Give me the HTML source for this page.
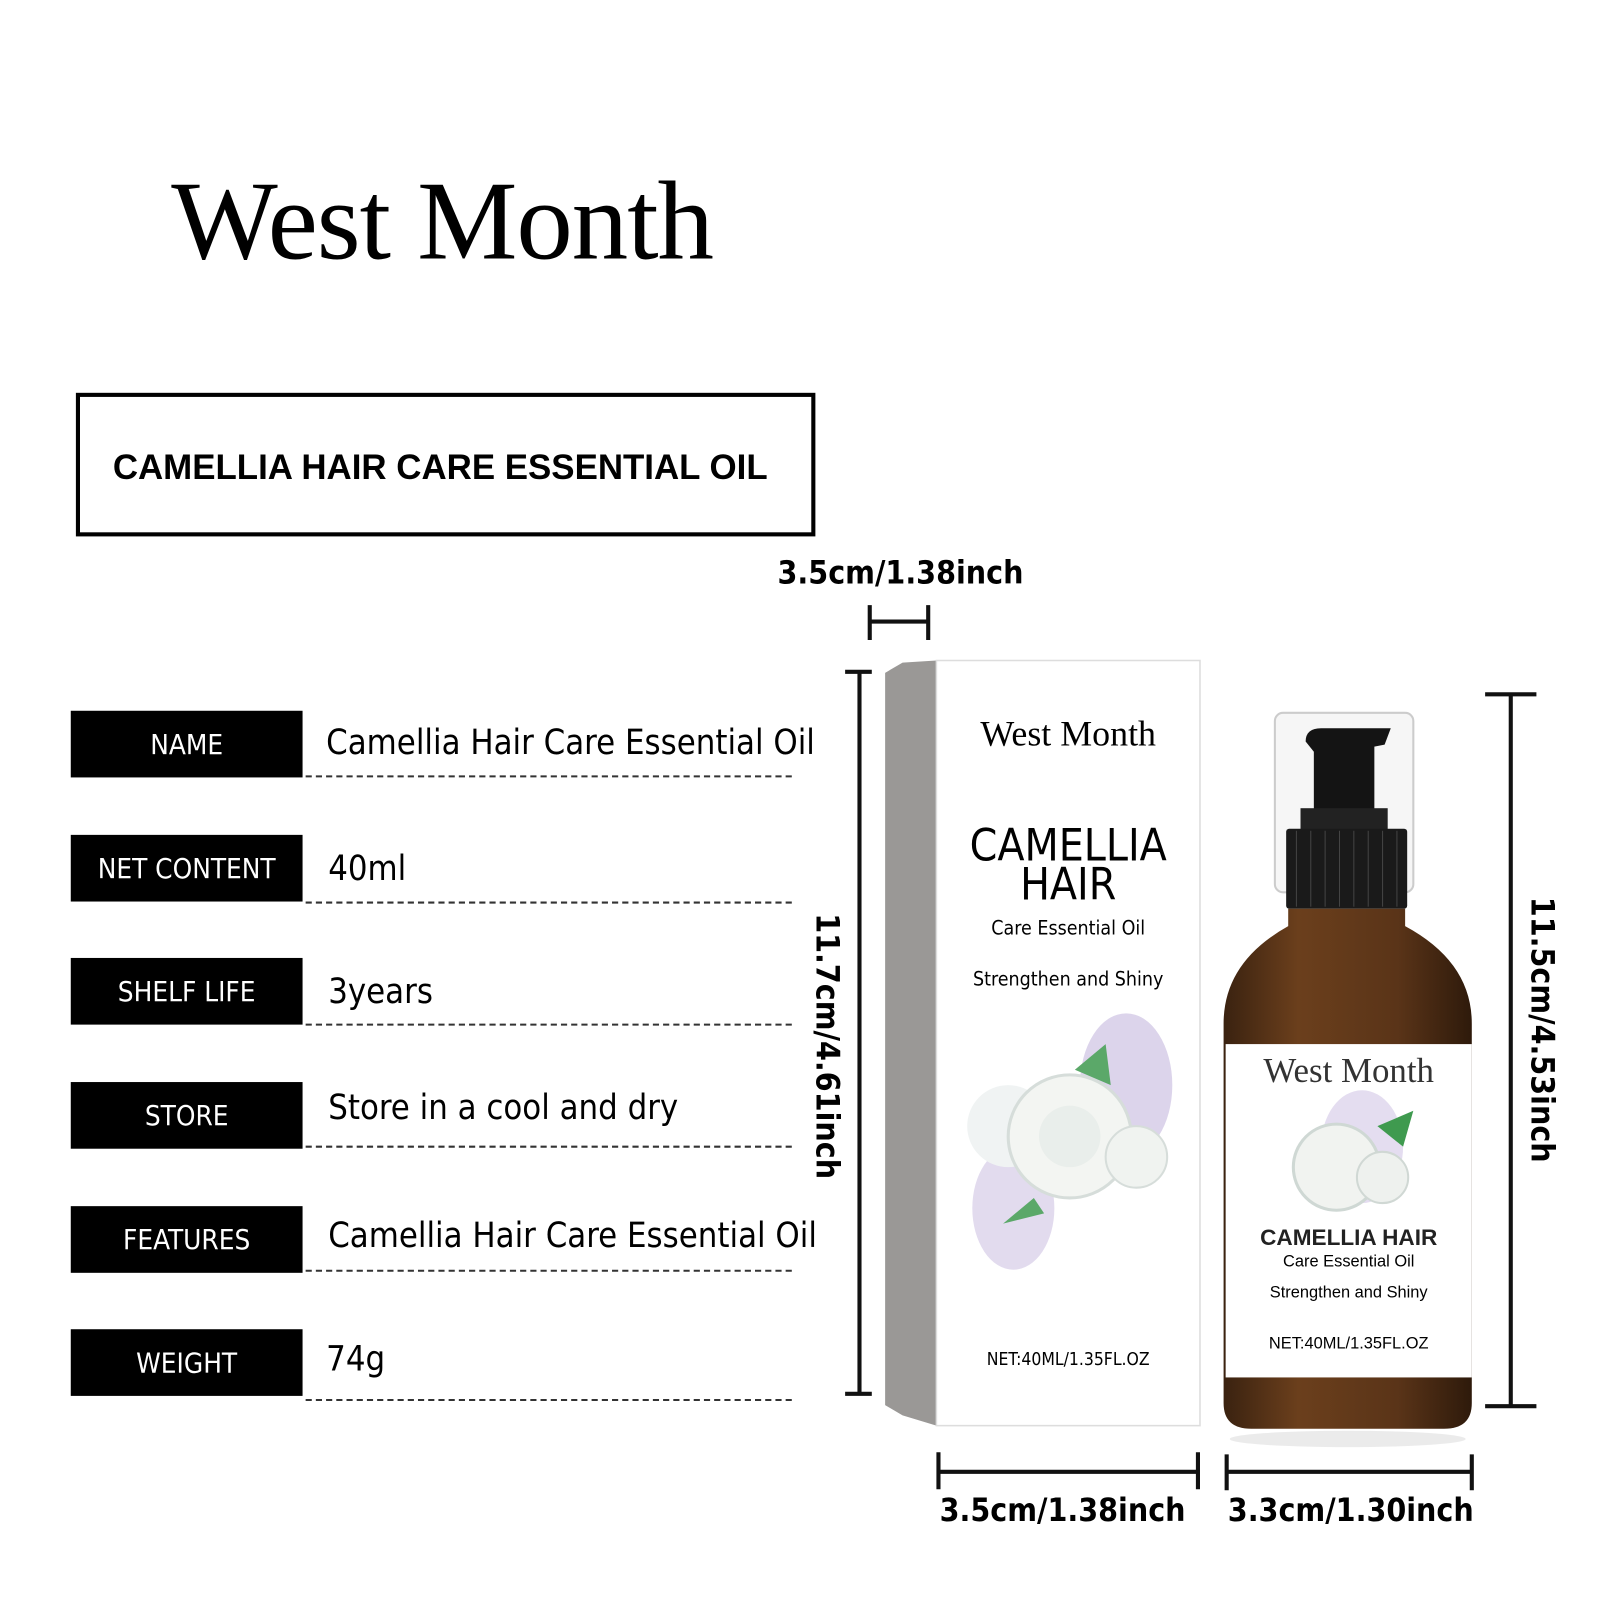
<!DOCTYPE html>
<html><head><meta charset="utf-8"><style>
html,body{margin:0;padding:0;background:#fff;width:1600px;height:1600px;overflow:hidden}
#w{position:absolute;left:0;top:0;width:1560px;height:1560px;transform:scale(1.02564);transform-origin:0 0;font-family:"Liberation Sans",sans-serif;color:#000}
.a{position:absolute}
.lab{position:absolute;left:69px;width:226px;height:65px;background:#000;color:#fff;font-size:27px;line-height:67px;text-align:center;font-family:"DejaVu Sans Condensed","Liberation Sans",sans-serif}
.val{position:absolute;left:318px;font-size:33.5px;font-family:"DejaVu Sans Condensed","Liberation Sans",sans-serif;white-space:nowrap}
.dash{position:absolute;left:298px;width:474px;border-top:2px dashed #333}
.dim{font-weight:bold;font-size:31px;white-space:nowrap;font-family:"DejaVu Sans Condensed","Liberation Sans",sans-serif}
.c{text-align:center;white-space:nowrap}
</style></head><body><div id="w">
<div class="a" style="left:167px;top:152px;font-family:'Liberation Serif',serif;font-size:110px;letter-spacing:-1px">West Month</div>
<div class="a" style="left:74px;top:383px;width:713px;height:132px;border:4px solid #000"></div>
<div class="a" style="left:110px;top:437px;font-size:34px;font-weight:bold;white-space:nowrap">CAMELLIA HAIR CARE ESSENTIAL OIL</div>

<div class="lab" style="top:693px">NAME</div><div class="val" style="top:704px">Camellia Hair Care Essential Oil</div><div class="dash" style="top:756px"></div>
<div class="lab" style="top:814px">NET CONTENT</div><div class="val" style="top:827px;left:320px">40ml</div><div class="dash" style="top:879px"></div>
<div class="lab" style="top:934px">SHELF LIFE</div><div class="val" style="top:947px;left:320px">3years</div><div class="dash" style="top:998px"></div>
<div class="lab" style="top:1055px">STORE</div><div class="val" style="top:1060px;left:320px">Store in a cool and dry</div><div class="dash" style="top:1117px"></div>
<div class="lab" style="top:1176px">FEATURES</div><div class="val" style="top:1185px;left:320px">Camellia Hair Care Essential Oil</div><div class="dash" style="top:1238px"></div>
<div class="lab" style="top:1296px">WEIGHT</div><div class="val" style="top:1305px">74g</div><div class="dash" style="top:1364px"></div>

<svg class="a" style="left:0;top:0" width="1560" height="1560">
<defs>
<linearGradient id="br" x1="0" x2="1"><stop offset="0" stop-color="#3a2210"/><stop offset=".3" stop-color="#6b3f1c"/><stop offset=".7" stop-color="#5a3418"/><stop offset="1" stop-color="#2e1a0b"/></linearGradient>
</defs>
<polygon points="863,656 880,646 913,644 913,1390 880,1380 863,1370" fill="#9a9896"/>
<rect x="913" y="644" width="257" height="746" fill="#fff" stroke="#ddd" stroke-width="1.5"/>
<g opacity=".85">
<ellipse cx="1098" cy="1058" rx="45" ry="70" fill="#d6cde8"/>
<ellipse cx="988" cy="1178" rx="40" ry="60" fill="#ddd5ec"/>
<circle cx="983" cy="1098" r="40" fill="#eef2f2"/>
<circle cx="1043" cy="1108" r="60" fill="#f2f4f0" stroke="#cfd8d4" stroke-width="3"/>
<circle cx="1043" cy="1108" r="30" fill="#e6ece8"/>
<circle cx="1108" cy="1128" r="30" fill="#eef1ee" stroke="#d0d8d4" stroke-width="2"/>
<path d="M1048,1043 L1078,1018 L1083,1058Z" fill="#3f9a4f"/>
<path d="M1008,1168 L978,1193 L1018,1183Z" fill="#3f9a4f"/>
</g>
<rect x="1243" y="695" width="135" height="175" rx="8" fill="#f6f6f6" stroke="#ccc" stroke-width="2"/>
<path d="M1273,723 Q1273,710 1288,710 L1356,710 L1350,726 L1340,728 L1340,798 L1281,798 L1281,733Z" fill="#141414"/>
<rect x="1268" y="788" width="85" height="22" fill="#222"/>
<rect x="1254" y="808" width="118" height="78" rx="3" fill="#1a1a1a"/>
<g stroke="#444" stroke-width="1">
<line x1="1264" y1="810" x2="1264" y2="884"/><line x1="1278" y1="810" x2="1278" y2="884"/><line x1="1292" y1="810" x2="1292" y2="884"/><line x1="1306" y1="810" x2="1306" y2="884"/><line x1="1320" y1="810" x2="1320" y2="884"/><line x1="1334" y1="810" x2="1334" y2="884"/><line x1="1348" y1="810" x2="1348" y2="884"/><line x1="1362" y1="810" x2="1362" y2="884"/></g>
<path d="M1256,886 L1370,886 L1370,903 Q1435,938 1435,998 L1435,1368 Q1435,1393 1408,1393 L1220,1393 Q1193,1393 1193,1368 L1193,998 Q1193,938 1256,903Z" fill="url(#br)"/>
<ellipse cx="1314" cy="1403" rx="115" ry="8" fill="#ddd" opacity=".6"/>
<rect x="1195" y="1018" width="240" height="325" fill="#fff"/>
<ellipse cx="1328" cy="1118" rx="40" ry="55" fill="#ddd5ec" opacity=".8"/>
<circle cx="1303" cy="1138" r="42" fill="#f1f3f0" stroke="#cfd8d4" stroke-width="3"/>
<circle cx="1348" cy="1148" r="25" fill="#eef1ee" stroke="#d0d8d4" stroke-width="2"/>
<path d="M1343,1098 L1378,1083 L1368,1118Z" fill="#3f9a4f"/>
<g stroke="#111" stroke-width="4" fill="none">
<path d="M848,590 V624 M905,590 V624 M848,606 H905"/>
<path d="M824,655 H850 M824,1359 H850 M838,655 V1359"/>
<path d="M1448,677 H1498 M1448,1371 H1498 M1473,677 V1371"/>
<path d="M915,1416 V1452 M1168,1416 V1452 M915,1435 H1168"/>
<path d="M1196,1418 V1453 M1435,1418 V1453 M1196,1435 H1435"/>
</g>
</svg>
<div class="a c" style="left:913px;width:257px;top:696px;font-family:'Liberation Serif',serif;font-size:35px">West Month</div>
<div class="a c" style="left:913px;width:257px;top:806px;font-size:43px;line-height:38px;font-family:'DejaVu Sans Condensed','Liberation Sans',sans-serif">CAMELLIA<br>HAIR</div>
<div class="a c" style="left:913px;width:257px;top:894px;font-size:19px;font-family:'DejaVu Sans Condensed','Liberation Sans',sans-serif">Care Essential Oil</div>
<div class="a c" style="left:913px;width:257px;top:944px;font-size:19px;font-family:'DejaVu Sans Condensed','Liberation Sans',sans-serif">Strengthen and Shiny</div>
<div class="a c" style="left:913px;width:257px;top:1316px;font-size:17px;font-family:'DejaVu Sans Condensed','Liberation Sans',sans-serif">NET:40ML/1.35FL.OZ</div>
<div class="a c" style="left:1195px;width:240px;top:1026px;font-family:'Liberation Serif',serif;font-size:34px;color:#333">West Month</div>
<div class="a c" style="left:1195px;width:240px;top:1194px;font-size:22px;font-weight:bold;color:#222">CAMELLIA HAIR</div>
<div class="a c" style="left:1195px;width:240px;top:1222px;font-size:16px">Care Essential Oil</div>
<div class="a c" style="left:1195px;width:240px;top:1252px;font-size:16px">Strengthen and Shiny</div>
<div class="a c" style="left:1195px;width:240px;top:1302px;font-size:16px">NET:40ML/1.35FL.OZ</div>

<div class="a dim c" style="left:728px;width:300px;top:541px">3.5cm/1.38inch</div>
<div class="a dim c" style="left:886px;width:300px;top:1455px">3.5cm/1.38inch</div>
<div class="a dim c" style="left:1167px;width:300px;top:1455px">3.3cm/1.30inch</div>
<div class="a dim c" style="left:656px;width:300px;top:1002px;transform:rotate(90deg)">11.7cm/4.61inch</div>
<div class="a dim c" style="left:1353px;width:300px;top:986px;transform:rotate(90deg)">11.5cm/4.53inch</div>
</div></body></html>
